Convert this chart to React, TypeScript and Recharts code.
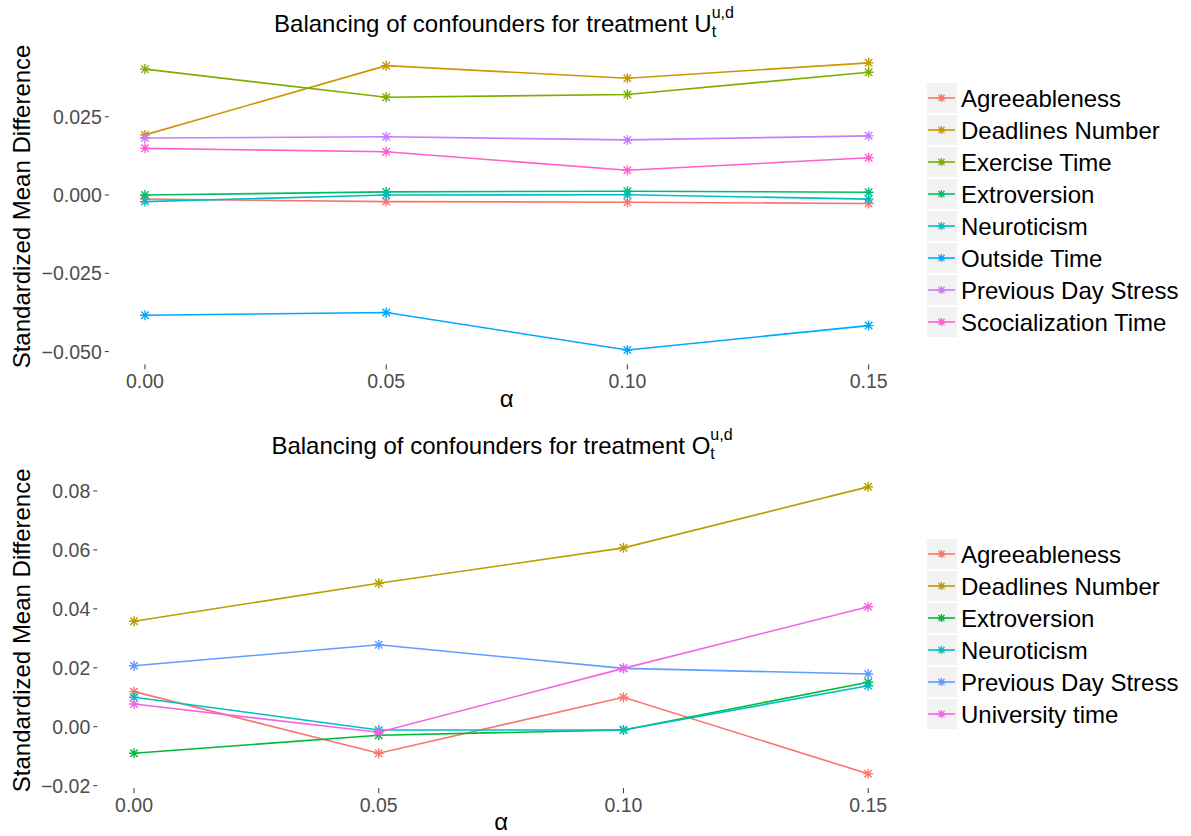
import React from "react";
import { LineChart, Line, XAxis, YAxis } from "recharts";

const W = 1191;
const H = 418;
const FONT = '"Liberation Sans", Arial, Helvetica, sans-serif';

// alpha values on the x axis
const alphaValues = [0, 0.05, 0.1, 0.15];
const alphaTicks = [0, 0.05, 0.1, 0.15];

// treatment U: standardized mean difference per confounder
const agreeablenessU = [-0.0013, -0.0021, -0.0023, -0.0027];
const deadlinesU = [0.0192, 0.0413, 0.0373, 0.0422];
const exerciseU = [0.0402, 0.0312, 0.0321, 0.0392];
const extroversionU = [0.0, 0.001, 0.0012, 0.0009];
const neuroticismU = [-0.0021, 0.0, 0.0001, -0.0013];
const outsideU = [-0.0384, -0.0375, -0.0495, -0.0417];
const stressU = [0.0182, 0.0186, 0.0176, 0.0189];
const socializationU = [0.0149, 0.0138, 0.0079, 0.0119];
const uTicks = [-0.05, -0.025, 0, 0.025];

// treatment O
const agreeablenessO = [0.0119, -0.009, 0.01, -0.016];
const deadlinesO = [0.0358, 0.0487, 0.0607, 0.0814];
const extroversionO = [-0.009, -0.0029, -0.0011, 0.0151];
const neuroticismO = [0.01, -0.0011, -0.0011, 0.0139];
const stressO = [0.0207, 0.0278, 0.0198, 0.0179];
const universityO = [0.0077, -0.0019, 0.0198, 0.0407];
const oTicks = [-0.02, 0, 0.02, 0.04, 0.06, 0.08];

type Series = { name: string; color: string; values: number[] };

const seriesU: Series[] = [
  { name: "Agreeableness", color: "#F8766D", values: agreeablenessU },
  { name: "Deadlines Number", color: "#CD9600", values: deadlinesU },
  { name: "Exercise Time", color: "#7CAE00", values: exerciseU },
  { name: "Extroversion", color: "#00BE67", values: extroversionU },
  { name: "Neuroticism", color: "#00BFC4", values: neuroticismU },
  { name: "Outside Time", color: "#00A9FF", values: outsideU },
  { name: "Previous Day Stress", color: "#C77CFF", values: stressU },
  { name: "Scocialization Time", color: "#FF61CC", values: socializationU },
];

const seriesO: Series[] = [
  { name: "Agreeableness", color: "#F8766D", values: agreeablenessO },
  { name: "Deadlines Number", color: "#B79F00", values: deadlinesO },
  { name: "Extroversion", color: "#00BA38", values: extroversionO },
  { name: "Neuroticism", color: "#00BFC4", values: neuroticismO },
  { name: "Previous Day Stress", color: "#619CFF", values: stressO },
  { name: "University time", color: "#F564E3", values: universityO },
];

// ggplot-style 5% padding around the data range
function paddedDomain(series: Series[]): [number, number] {
  const all = series.flatMap((s) => s.values);
  const lo = Math.min(...all);
  const hi = Math.max(...all);
  const pad = (hi - lo) * 0.05;
  return [lo - pad, hi + pad];
}

function fmt(v: number, digits: number) {
  const s = Math.abs(v).toFixed(digits);
  return v < -1e-9 ? "\u2212" + s : s;
}

// asterisk marker (plus + cross)
function Star({ cx, cy, color, r }: { cx: number; cy: number; color: string; r: number }) {
  const d = r * 0.75;
  return (
    <path
      d={`M${cx - r},${cy}H${cx + r}M${cx},${cy - r}V${cy + r}M${cx - d},${cy - d}L${cx + d},${cy + d}M${cx - d},${cy + d}L${cx + d},${cy - d}`}
      stroke={color}
      strokeWidth={1.4}
      fill="none"
    />
  );
}

type Layout = {
  margin: { top: number; right: number; bottom: number; left: number };
  yAxisWidth: number;
  alphaOffset: number;
  titleX: number;
  titleY: number;
  legendY: number;
};

function Panel({
  series,
  yTicks,
  digits,
  letter,
  layout,
}: {
  series: Series[];
  yTicks: number[];
  digits: number;
  letter: string;
  layout: Layout;
}) {
  const rows = alphaValues.map((a, i) => {
    const row: Record<string, number> = { alpha: a };
    series.forEach((s) => {
      row[s.name] = s.values[i];
    });
    return row;
  });
  const domain = paddedDomain(series);

  return (
    <div style={{ position: "relative", width: W, height: H }}>
      <LineChart width={W} height={H} data={rows} margin={layout.margin}>
        <XAxis
          dataKey="alpha"
          type="number"
          domain={[-0.0075, 0.1575]}
          allowDataOverflow
          ticks={alphaTicks}
          tickFormatter={(v) => fmt(v, 2)}
          axisLine={false}
          tickLine={{ stroke: "#333333", strokeWidth: 1 }}
          tickSize={5}
          tickMargin={5}
          tick={{ fill: "#4D4D4D", fontSize: 19.5 }}
          height={46}
          label={{ value: "α", position: "insideBottom", offset: layout.alphaOffset, fill: "#000000", fontSize: 24 }}
        />
        <YAxis
          type="number"
          domain={domain}
          allowDataOverflow
          ticks={yTicks}
          tickFormatter={(v) => fmt(v, digits)}
          axisLine={false}
          tickLine={{ stroke: "#333333", strokeWidth: 1 }}
          tickSize={4}
          tickMargin={3}
          tick={{ fill: "#4D4D4D", fontSize: 19.5 }}
          width={layout.yAxisWidth}
          label={{
            value: "Standardized Mean Difference",
            angle: -90,
            position: "insideLeft",
            offset: 12.2,
            fill: "#000000",
            fontSize: 24,
            style: { textAnchor: "middle" },
          }}
        />
        {series.map((s) => (
          <Line
            key={s.name}
            dataKey={s.name}
            type="linear"
            stroke={s.color}
            strokeWidth={1.6}
            isAnimationActive={false}
            activeDot={false}
            dot={(p: any) => <Star key={`${s.name}-${p.index}`} cx={p.cx} cy={p.cy} color={s.color} r={5} />}
          />
        ))}
      </LineChart>
      <svg
        width={W}
        height={H}
        style={{ position: "absolute", left: 0, top: 0, pointerEvents: "none", fontFamily: FONT }}
      >
        <text x={layout.titleX} y={layout.titleY} textAnchor="middle" fontSize={24} fill="#000000">
          Balancing of confounders for treatment {letter}
          <tspan fontSize={16} dy={5.5}>t</tspan>
          <tspan fontSize={16} dx={-4.4} dy={-19}>u,d</tspan>
        </text>
        {series.map((s, i) => {
          const cy = layout.legendY + i * 32;
          return (
            <g key={s.name}>
              <rect x={927} y={cy - 15} width={30} height={30} fill="#F2F2F2" />
              <line x1={928} x2={955} y1={cy} y2={cy} stroke={s.color} strokeWidth={1.6} />
              <Star cx={941.5} cy={cy} color={s.color} r={4} />
              <text x={961} y={cy + 8.5} fontSize={24} fill="#000000">
                {s.name}
              </text>
            </g>
          );
        })}
      </svg>
    </div>
  );
}

const layoutU: Layout = {
  margin: { top: 48.5, right: 286.2, bottom: 7.6, left: 8.8 },
  yAxisWidth: 100,
  alphaOffset: 3.4,
  titleX: 504,
  titleY: 31.5,
  legendY: 98,
};

const layoutO: Layout = {
  margin: { top: 54.5, right: 286.1, bottom: 1.8, left: 8.8 },
  yAxisWidth: 88.5,
  alphaOffset: 4.2,
  titleX: 502,
  titleY: 35.5,
  legendY: 136,
};

export default function App() {
  return (
    <div
      style={{
        position: "absolute",
        left: 0,
        top: 0,
        width: W,
        height: 2 * H,
        background: "#ffffff",
        fontFamily: FONT,
      }}
    >
      <Panel series={seriesU} yTicks={uTicks} digits={3} letter="U" layout={layoutU} />
      <Panel series={seriesO} yTicks={oTicks} digits={2} letter="O" layout={layoutO} />
    </div>
  );
}
